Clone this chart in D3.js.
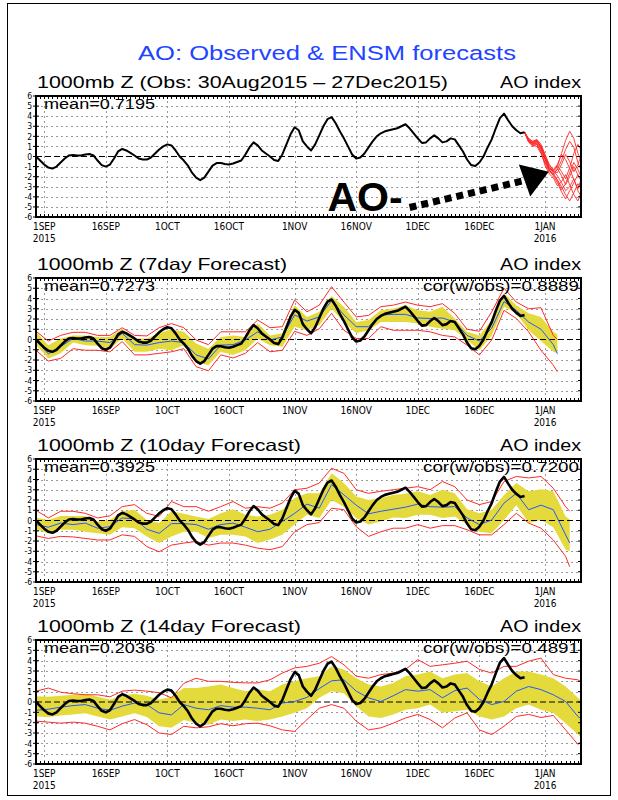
<!DOCTYPE html>
<html><head><meta charset="utf-8">
<script src="https://cdn.jsdelivr.net/npm/d3@7"></script>
<style>body{margin:0;background:#fff}svg{display:block}</style>
</head><body>
<svg id="c" width="618" height="800"></svg>
<script>
// ---------------- DATA ----------------
const startDate = "2015-08-30";           // day 0 of every series
const endDomain = "2016-01-09T18:00";
const mainTitle = "AO: Observed & ENSM forecasts";
const panelTitles = ["1000mb Z (Obs: 30Aug2015 \u2013 27Dec2015)", "1000mb Z (7day Forecast)",
                     "1000mb Z (10day Forecast)", "1000mb Z (14day Forecast)"];
const rightTitle = "AO index";
const meanLabels = ["mean=0.7195", "mean=0.7273", "mean=0.3925", "mean=0.2036"];
const corLabels = [null, "cor(w/obs)=0.8889", "cor(w/obs)=0.7200", "cor(w/obs)=0.4891"];
const tickDates = ["2015-09-01","2015-09-16","2015-10-01","2015-10-16","2015-11-01","2015-11-16","2015-12-01","2015-12-16","2016-01-01"];
const tickLabels = ["1SEP","16SEP","1OCT","16OCT","1NOV","16NOV","1DEC","16DEC","1JAN"];
const yearDates = ["2015-09-01","2016-01-01"];
const yearLabels = ["2015","2016"];
const yTicks = [-6,-5,-4,-3,-2,-1,0,1,2,3,4,5,6];

// observed AO, daily from 30 Aug 2015 to 27 Dec 2015
const obsValues = [0.0,-0.4,-0.8,-1.1,-1.2,-1.0,-0.6,-0.2,0.1,0.15,
 0.1,0.1,0.2,0.25,0.1,-0.4,-0.85,-1.0,-0.8,-0.2,
 0.5,0.75,0.6,0.35,0.1,-0.2,-0.3,-0.3,-0.1,0.3,
 0.7,1.0,1.2,1.1,0.6,0.0,-0.4,-0.9,-1.6,-2.1,
 -2.35,-2.1,-1.5,-0.9,-0.65,-0.65,-0.75,-0.8,-0.7,-0.55,
 -0.4,0.2,0.9,1.4,1.1,0.6,0.3,0.0,-0.35,-0.45,
 0.2,1.2,2.2,2.9,2.6,1.5,1.0,0.6,1.2,2.1,
 3.0,3.7,3.9,3.3,2.5,1.8,1.0,0.2,-0.2,-0.1,
 0.3,0.9,1.5,2.0,2.3,2.5,2.6,2.7,2.8,3.0,
 3.2,2.8,2.3,1.8,1.35,1.4,1.8,2.1,1.8,1.4,
 1.5,1.8,1.7,1.1,0.5,-0.3,-0.85,-0.95,-0.6,0.0,
 0.9,1.7,2.8,3.8,4.25,3.6,3.0,2.6,2.3,2.4];

// ensemble members (panel 1), daily from day 119 (27 Dec) to day 133
const ensStartDay = 119;
const ensMember1 = [2.4,1.7,1.3,1.5,1.0,0.0,-1.0,-1.5,-1.0,0.3,1.6,2.5,1.8,0.3,-0.6];
const ensMember2 = [2.4,1.5,1.0,1.2,0.8,-0.3,-1.3,-1.8,-2.3,-3.0,-3.8,-4.4,-3.6,-2.7,-3.2];
const ensMember3 = [2.4,1.8,1.5,1.6,0.9,-0.2,-1.4,-1.7,-1.3,-0.4,0.7,1.5,0.9,-0.6,-1.5];
const ensMember4 = [2.4,1.4,1.1,1.4,1.1,0.1,-0.8,-1.4,-1.9,-2.6,-3.4,-3.0,-2.2,-3.4,-4.1];
const ensMember5 = [2.4,1.6,1.3,1.2,0.5,-0.7,-1.5,-1.8,-1.2,-1.9,-2.8,-2.0,-1.0,-1.8,-2.6];
const ensMember6 = [2.4,1.5,1.3,1.5,0.9,-0.1,-1.1,-1.6,-2.4,-3.3,-2.7,-1.6,-0.6,-1.3,-2.2];
const ensMember7 = [2.4,1.7,1.5,1.7,1.2,0.2,-0.8,-1.3,-0.8,0.2,-0.3,-1.2,-2.3,-3.2,-2.0];
const ensMember8 = [2.4,1.6,1.2,1.3,0.4,-0.9,-1.7,-2.1,-2.9,-2.5,-1.8,-2.8,-3.8,-4.4,-3.4];
const ensMember9 = [2.4,1.5,1.4,1.5,0.7,-0.3,-1.1,-1.4,-0.9,-1.5,-2.2,-1.1,0.3,1.2,0.5];
const ensMember10 = [2.4,1.6,1.1,1.0,0.3,-0.6,-1.3,-1.9,-2.6,-3.5,-4.2,-3.4,-2.6,-1.8,-2.4];
const ensMember11 = [2.4,1.6,1.4,1.6,1.0,-0.1,-1.2,-1.5,-1.6,-0.8,0.2,-0.5,-1.5,-0.8,0.3];

// forecast panels: values every 3 days from day 0, plus a final day
const fcStep = 3;
const fc7LastDay = 127, fc10LastDay = 130, fc14LastDay = 133;

const fc7Mean = [-0.1,-1.4,-0.7,0.1,-0.15,-0.15,-0.3,0.6,-0.5,-0.55,
 -0.3,-0.15,-0.3,-1.5,-1.9,-0.55,-0.5,-0.05,0.75,-0.05,
 0.25,2.4,1.8,2.2,3.8,2.4,1.25,1.25,2.4,2.45,
 2.45,2.1,2.05,2.1,1.7,0.4,-0.15,1.1,3.7,2.85,
 1.7,1.0,-0.5,-1.4];
const fc7BandLo = [-0.5,-1.85,-1.35,-0.3,-0.55,-0.6,-0.9,0.1,-1.2,-1.2,
 -0.9,-1.05,-0.55,-2.2,-2.5,-1.2,-1.5,-1.05,0.1,-0.55,
 -0.7,1.25,0.9,1.4,3.0,1.7,0.6,0.9,1.7,1.7,
 1.7,1.55,1.25,1.05,0.9,-0.05,-1.05,0.4,3.2,2.55,
 0.9,-0.15,-1.2,-1.3];
const fc7BandHi = [0.75,-0.55,0.1,0.4,0.4,0.25,0.25,1.05,0.1,0.1,
 0.6,1.0,0.75,-0.4,-0.9,0.25,0.4,0.25,1.55,0.4,
 0.6,3.35,2.2,2.7,4.25,3.2,1.7,1.9,2.85,3.0,
 3.35,2.85,2.7,3.2,2.05,0.75,0.4,1.9,4.5,3.35,
 2.55,2.2,0.75,0.5];
const fc7RedLo = [-1.05,-2.1,-1.85,-0.9,-1.05,-1.05,-1.2,-0.2,-1.5,-1.5,
 -1.35,-1.2,-0.9,-2.65,-3.05,-1.5,-1.8,-1.35,-0.3,-1.2,
 -1.05,0.8,0.4,1.05,2.55,0.9,0.1,0.1,1.25,0.9,
 0.9,0.9,0.75,0.4,0.25,-0.55,-1.5,-0.05,2.85,2.05,
 0.75,-1.05,-2.5,-3.15];
const fc7RedHi = [0.8,-0.15,0.4,0.7,0.7,0.4,0.4,1.15,0.4,0.35,
 1.15,1.55,1.15,-0.05,-0.5,0.75,0.75,0.75,1.9,1.15,
 1.25,3.85,2.7,3.35,5.15,3.65,2.2,2.35,3.2,3.35,
 3.65,3.35,3.2,3.5,2.55,1.0,0.8,2.7,5.0,3.65,
 3.0,3.1,0.4,0.0];

const fc10Mean = [-0.4,-0.65,-0.25,-0.4,-0.25,-0.75,-0.6,0.25,0.15,-0.85,
 -1.25,-0.3,-0.3,-0.4,-0.85,-0.4,-0.25,-0.65,-1.1,-0.85,
 -0.1,0.7,1.6,1.2,3.5,2.5,1.5,0.65,0.9,1.1,
 1.3,1.6,1.35,1.3,1.35,0.25,-0.4,0.05,1.7,2.65,
 1.05,1.5,1.05,-1.4,-2.2];
const fc10BandLo = [-0.85,-1.25,-0.9,-0.9,-1.1,-1.25,-1.4,-0.65,-0.75,-1.55,
 -2.2,-1.55,-1.1,-1.1,-1.7,-1.4,-1.4,-1.55,-2.2,-1.85,
 -1.4,-0.4,0.55,0.25,2.0,1.35,0.25,-0.4,-0.1,0.3,
 0.25,0.55,0.55,0.25,0.4,-0.4,-1.1,-1.25,0.05,1.5,
 -0.25,0.05,-0.65,-2.85,-3.0];
const fc10BandHi = [0.3,0.05,0.45,0.45,0.45,-0.1,0.05,0.9,1.05,0.05,
 -0.25,0.9,0.65,0.4,0.15,0.7,1.1,0.55,0.4,0.55,
 1.05,2.2,2.65,2.65,4.6,3.65,2.35,2.0,2.2,2.5,
 2.6,2.85,2.5,3.0,2.65,1.1,0.7,1.05,2.5,3.65,
 2.85,3.05,2.85,0.4,0.1];
const fc10RedLo = [-1.5,-1.75,-1.55,-1.6,-1.75,-1.9,-1.9,-1.4,-1.55,-2.55,
 -3.05,-2.4,-2.2,-2.05,-2.4,-2.2,-2.2,-2.4,-2.7,-2.85,
 -2.55,-1.1,-0.4,-0.2,1.2,1.05,-0.6,-1.55,-1.1,-0.75,
 -0.75,-0.4,-0.75,-0.5,-0.5,-0.9,-1.4,-1.4,-0.4,0.7,
 -0.25,-0.75,-1.9,-3.5,-4.5];
const fc10RedHi = [1.0,0.25,0.9,0.9,0.7,0.25,0.45,1.35,1.55,0.7,
 0.4,1.85,1.35,1.35,0.9,1.35,1.85,1.2,1.35,1.2,
 1.7,3.0,3.15,3.65,5.1,4.6,3.0,2.65,2.85,3.0,
 3.15,3.3,3.0,3.8,3.3,2.0,1.55,1.85,3.8,4.3,
 4.15,4.3,3.15,1.35,0.9];

const fc14Mean = [-0.8,-0.7,-0.5,-0.35,-0.25,-0.6,-0.8,-0.4,-0.1,-0.25,
 -1.05,-1.25,-0.25,-0.6,-0.75,-0.35,-0.5,-0.5,-0.6,-0.75,
 -0.1,0.05,0.45,1.3,2.05,2.15,1.05,0.4,0.05,0.6,
 1.2,1.05,1.2,0.4,1.1,1.35,0.25,-0.25,0.05,1.05,
 1.5,1.2,0.7,0.05,-1.4,-1.7];
const fc14BandLo = [-1.4,-1.45,-1.3,-1.2,-1.1,-1.4,-1.7,-1.4,-1.1,-1.45,
 -2.35,-2.5,-1.75,-2.0,-2.2,-1.7,-1.85,-1.7,-1.85,-1.7,
 -1.4,-1.05,-0.6,0.4,1.05,0.85,-0.4,-1.4,-1.55,-1.2,
 -0.75,-0.6,-0.25,-1.05,-0.9,-0.75,-1.4,-1.7,-1.4,-0.6,
 -0.25,-0.75,-1.05,-2.05,-3.15,-3.5];
const fc14BandHi = [0.55,0.5,0.6,0.7,0.8,0.5,0.25,0.6,0.8,0.6,
 0.25,0.5,1.35,1.35,1.5,1.7,1.35,1.05,1.2,1.05,
 1.7,2.0,2.3,2.5,3.45,3.15,2.3,1.7,1.5,1.85,
 2.5,2.65,2.95,2.3,2.65,2.8,2.0,1.5,2.3,2.95,
 2.95,2.65,2.3,1.5,0.4,0.1];
const fc14RedLo = [-1.85,-1.95,-2.05,-1.95,-2.05,-2.35,-2.7,-2.1,-1.7,-2.2,
 -3.0,-3.15,-2.35,-2.5,-2.4,-2.1,-2.3,-2.1,-2.05,-2.3,
 -2.7,-2.85,-1.7,-0.6,-0.25,-0.6,-1.85,-2.7,-2.5,-2.05,
 -1.55,-1.2,-1.7,-2.5,-1.55,-1.05,-2.7,-3.15,-2.35,-1.4,
 -1.2,-1.5,-1.3,-2.7,-4.1,-3.8];
const fc14RedHi = [1.05,1.35,0.95,0.8,0.7,0.7,0.5,1.05,1.15,1.05,
 0.9,0.4,1.8,2.3,2.0,2.0,1.9,1.85,1.85,2.15,
 2.8,3.3,3.45,3.75,4.4,3.6,2.5,2.3,2.65,2.8,
 3.15,4.1,3.45,3.6,3.75,3.95,3.15,2.8,3.45,3.45,
 3.95,4.25,2.65,2.3,2.15,1.85];

// annotation
const arrowText = "AO-";
const arrowTextAt = {date: "2015-11-09", value: -5.45};
const arrowFrom = {date: "2015-11-29", value: -5.06};
const arrowBase = {date: "2015-12-27", value: -2.38};
const arrowTip  = {date: "2016-01-01T22:00", value: -1.52};

// ---------------- DRAW ----------------
const svg = d3.select("#c");
const parseDay = d3.timeParse("%Y-%m-%d");
const parseAny = s => s.length > 10 ? d3.timeParse("%Y-%m-%dT%H:%M")(s) : parseDay(s);
const t0 = parseDay(startDate);
const dayDate = d => d3.timeDay.offset(t0, d);
const x = d3.scaleTime().domain([t0, parseAny(endDomain)]).range([36, 581]);

const FONT = "'Liberation Sans', Arial, sans-serif";
const NARROW = "'Liberation Sans Narrow', 'DejaVu Sans Condensed', 'Liberation Sans', sans-serif";
const YEL = "#e5da3c", RED = "#ff2a2a", BLUE = "#2458ff";

svg.append("rect").attr("x", 7.5).attr("y", 3.5).attr("width", 603).attr("height", 792)
  .attr("fill", "none").attr("stroke", "#000").attr("stroke-width", 1);

svg.append("text").attr("x", 138).attr("y", 60).text(mainTitle)
  .attr("font-family", FONT).attr("font-size", 20.5).attr("fill", "#2244ff")
  .attr("textLength", 378).attr("lengthAdjust", "spacingAndGlyphs");

const panels = [{top: 96, bottom: 217}, {top: 278, bottom: 401}, {top: 459, bottom: 582}, {top: 640, bottom: 764}];
const titleWidths = [411, 250, 264, 264];

const obsPts = obsValues.map((v, i) => ({date: dayDate(i), v}));
const ensMembers = [ensMember1, ensMember2, ensMember3, ensMember4, ensMember5, ensMember6,
  ensMember7, ensMember8, ensMember9, ensMember10, ensMember11];

const forecasts = [null,
  {last: fc7LastDay, mean: fc7Mean, bl: fc7BandLo, bh: fc7BandHi, rl: fc7RedLo, rh: fc7RedHi},
  {last: fc10LastDay, mean: fc10Mean, bl: fc10BandLo, bh: fc10BandHi, rl: fc10RedLo, rh: fc10RedHi},
  {last: fc14LastDay, mean: fc14Mean, bl: fc14BandLo, bh: fc14BandHi, rl: fc14RedLo, rh: fc14RedHi}];

panels.forEach((p, k) => {
  const y = d3.scaleLinear().domain([-6, 6]).range([p.bottom, p.top]);
  const g = svg.append("g");
  const clipId = "clip" + k;
  svg.append("clipPath").attr("id", clipId).append("rect")
    .attr("x", 36).attr("y", p.top).attr("width", 545).attr("height", p.bottom - p.top);

  // grid
  const grid = g.append("g").attr("stroke", "#9a9a9a").attr("stroke-width", 1).attr("stroke-dasharray", "2,3");
  yTicks.filter(v => v !== 0 && Math.abs(v) < 6).forEach(v => {
    grid.append("line").attr("x1", 36).attr("x2", 581).attr("y1", Math.round(y(v)) + 0.5).attr("y2", Math.round(y(v)) + 0.5);
  });
  tickDates.forEach(d => {
    const xx = Math.round(x(parseDay(d))) + 0.5;
    grid.append("line").attr("x1", xx).attr("x2", xx).attr("y1", p.top).attr("y2", p.bottom);
  });

  const content = g.append("g").attr("clip-path", `url(#${clipId})`);
  const line = d3.line().x(d => x(d.date)).y(d => y(d.v));

  const fc = forecasts[k];
  if (fc) {
    const days = d3.range(0, fc.last, fcStep).concat([fc.last]);
    const pts = days.map((d, i) => ({date: dayDate(d), m: fc.mean[i], bl: fc.bl[i], bh: fc.bh[i], rl: fc.rl[i], rh: fc.rh[i]}));
    content.append("path").datum(pts)
      .attr("d", d3.area().x(d => x(d.date)).y0(d => y(d.bl)).y1(d => y(d.bh)))
      .attr("fill", YEL);
  }
  // zero line
  content.append("line").attr("x1", 36).attr("x2", 581).attr("y1", y(0)).attr("y2", y(0))
    .attr("stroke", "#000").attr("stroke-width", 1).attr("stroke-dasharray", "6,3");

  if (fc) {
    const days = d3.range(0, fc.last, fcStep).concat([fc.last]);
    ["rl", "rh"].forEach(key => {
      content.append("path").datum(days.map((d, i) => ({date: dayDate(d), v: fc[key][i]})))
        .attr("d", line).attr("fill", "none").attr("stroke", RED).attr("stroke-width", 1);
    });
    content.append("path").datum(days.map((d, i) => ({date: dayDate(d), v: fc.mean[i]})))
      .attr("d", line).attr("fill", "none").attr("stroke", BLUE).attr("stroke-width", 1);
    content.append("path").datum(obsPts).attr("d", line)
      .attr("fill", "none").attr("stroke", "#000").attr("stroke-width", 2.6).attr("stroke-linejoin", "round");
  } else {
    ensMembers.forEach(m => {
      content.append("path").datum(m.map((v, i) => ({date: dayDate(ensStartDay + i), v})))
        .attr("d", line).attr("fill", "none").attr("stroke", RED).attr("stroke-width", 0.9);
    });
    content.append("path").datum(obsPts).attr("d", line)
      .attr("fill", "none").attr("stroke", "#000").attr("stroke-width", 2).attr("stroke-linejoin", "round");

    // annotation arrow
    const S = [x(parseAny(arrowFrom.date)), y(arrowFrom.value)];
    const B = [x(parseAny(arrowBase.date)), y(arrowBase.value)];
    const T = [x(parseAny(arrowTip.date)), y(arrowTip.value)];
    g.append("line").attr("x1", S[0]).attr("y1", S[1]).attr("x2", B[0]).attr("y2", B[1])
      .attr("stroke", "#000").attr("stroke-width", 7).attr("stroke-dasharray", "7,5");
    const dx = T[0] - B[0], dy = T[1] - B[1], len = Math.hypot(dx, dy);
    const nx = -dy / len, ny = dx / len, hw = 17;
    g.append("path").attr("d", `M${T[0]},${T[1]}L${B[0] + nx * hw},${B[1] + ny * hw}L${B[0] - nx * hw},${B[1] - ny * hw}Z`)
      .attr("fill", "#000");
    g.append("text").attr("x", x(parseAny(arrowTextAt.date))).attr("y", y(arrowTextAt.value))
      .text(arrowText).attr("font-family", FONT).attr("font-weight", "bold").attr("font-size", 41).attr("fill", "#000");
  }

  // frame + ticks
  const fr = g.append("g").attr("stroke", "#000");
  d3.range(0, 134).forEach(d => {
    const xx = Math.round(x(dayDate(d))) + 0.5;
    if (xx > 37 && xx < 580) {
      fr.append("line").attr("x1", xx).attr("x2", xx).attr("y1", p.bottom).attr("y2", p.bottom - 3).attr("stroke-width", 1);
      fr.append("line").attr("x1", xx).attr("x2", xx).attr("y1", p.top).attr("y2", p.top + 3).attr("stroke-width", 1);
    }
  });
  yTicks.forEach(v => {
    fr.append("line").attr("x1", 33).attr("x2", 39).attr("y1", y(v)).attr("y2", y(v)).attr("stroke-width", 1);
    fr.append("line").attr("x1", 578).attr("x2", 581).attr("y1", y(v)).attr("y2", y(v)).attr("stroke-width", 1);
  });
  g.append("rect").attr("x", 36).attr("y", p.top).attr("width", 545).attr("height", p.bottom - p.top)
    .attr("fill", "none").attr("stroke", "#000").attr("stroke-width", 2);

  // y labels
  yTicks.forEach(v => {
    g.append("text").attr("x", 32).attr("y", y(v) + 3.2).attr("text-anchor", "end").text(String(v))
      .attr("font-family", NARROW).attr("font-size", 8.5);
  });
  // x labels
  tickDates.forEach((d, i) => {
    g.append("text").attr("x", x(parseDay(d))).attr("y", p.bottom + 13).attr("text-anchor", "middle")
      .text(tickLabels[i]).attr("font-family", NARROW).attr("font-size", 10);
  });
  yearDates.forEach((d, i) => {
    g.append("text").attr("x", x(parseDay(d))).attr("y", p.bottom + 25).attr("text-anchor", "middle")
      .text(yearLabels[i]).attr("font-family", NARROW).attr("font-size", 10);
  });

  // titles
  g.append("text").attr("x", 37).attr("y", p.top - 8).text(panelTitles[k])
    .attr("font-family", FONT).attr("font-size", 16.5)
    .attr("textLength", titleWidths[k]).attr("lengthAdjust", "spacingAndGlyphs");
  g.append("text").attr("x", 581).attr("y", p.top - 8).attr("text-anchor", "end").text(rightTitle)
    .attr("font-family", FONT).attr("font-size", 16.5)
    .attr("textLength", 81).attr("lengthAdjust", "spacingAndGlyphs");
  g.append("text").attr("x", 44).attr("y", p.top + 13).text(meanLabels[k])
    .attr("font-family", FONT).attr("font-size", 14.5)
    .attr("textLength", 111).attr("lengthAdjust", "spacingAndGlyphs");
  if (corLabels[k]) {
    g.append("text").attr("x", 579).attr("y", p.top + 13).attr("text-anchor", "end").text(corLabels[k])
      .attr("font-family", FONT).attr("font-size", 14.5)
      .attr("textLength", 156).attr("lengthAdjust", "spacingAndGlyphs");
  }
});
</script>
</body></html>
